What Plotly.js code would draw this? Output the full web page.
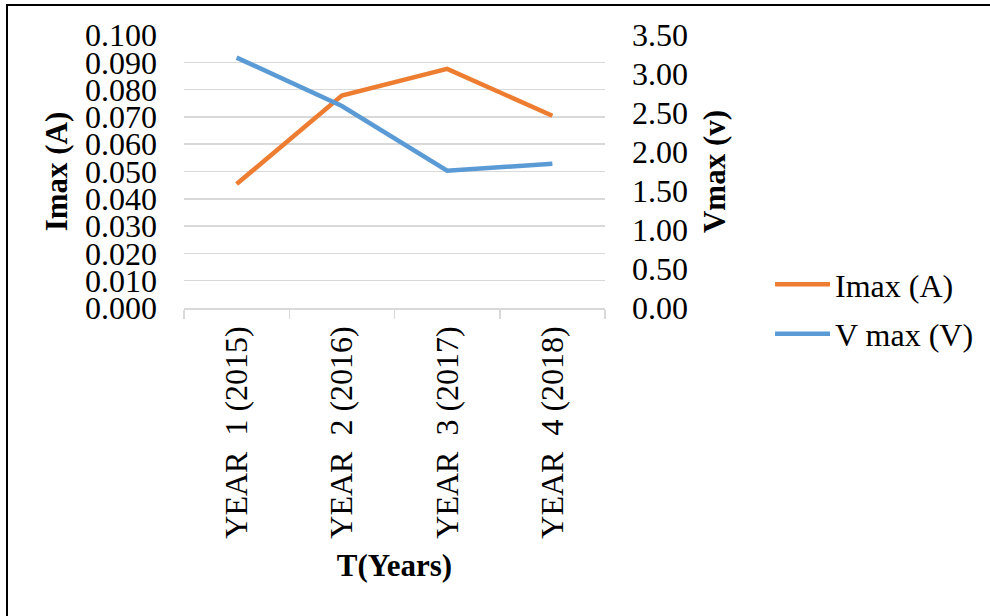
<!DOCTYPE html>
<html>
<head>
<meta charset="utf-8">
<script src="https://cdn.plot.ly/plotly-3.0.1.min.js"></script>
<style>
  html, body { margin: 0; padding: 0; background: #fff; }
  #wrap { position: relative; width: 990px; height: 616px; overflow: hidden; }
  #chart { position: absolute; left: 0; top: 0; width: 990px; height: 616px; }
  #frame { position: absolute; left: 6px; top: 4px; width: 1000px; height: 700px;
           border-left: 2.5px solid #000; border-top: 2.5px solid #000; pointer-events: none; }
</style>
</head>
<body>
<div id="wrap">
  <div id="chart"></div>
  <div id="frame"></div>
</div>
<script>
const categories = ["YEAR  1 (2015)", "YEAR  2 (2016)", "YEAR  3 (2017)", "YEAR  4 (2018)"];
const imaxValues = [0.0454, 0.0778, 0.0876, 0.0704];
const vmaxValues = [3.21, 2.59, 1.76, 1.85];
const imaxName = "Imax (A)";
const vmaxName = "V max (V)";

const FONT = "'Liberation Serif', 'Times New Roman', serif";
const FS = 32;
const TFS = 31;

const traces = [
  {
    x: categories, y: imaxValues, name: imaxName, type: "scatter", mode: "lines",
    line: { color: "#ED7D31", width: 4.5 }, yaxis: "y", legendgroup: "a"
  },
  {
    x: categories, y: vmaxValues, name: vmaxName, type: "scatter", mode: "lines",
    line: { color: "#5B9BD5", width: 4.5 }, yaxis: "y2", legendgroup: "b"
  }
];

const layout = {
  width: 990, height: 616,
  margin: { l: 184, r: 385, t: 35, b: 308, autoexpand: false },
  paper_bgcolor: "#fff", plot_bgcolor: "#fff",
  font: { family: FONT, size: FS, color: "#000" },
  showlegend: true,
  legend: {
    x: 1.392, xanchor: "left", y: -0.005, yanchor: "middle",
    font: { family: FONT, size: FS, color: "#000" },
    tracegroupgap: 5, bgcolor: "rgba(0,0,0,0)", itemwidth: 55
  },
  xaxis: {
    type: "category",
    range: [-0.5, 3.5], autorange: false,
    tickangle: -90,
    tickson: "boundaries",
    ticks: "outside", ticklen: 9, tickcolor: "#d9d9d9", tickwidth: 1.5,
    showline: true, linecolor: "#d9d9d9", linewidth: 1.5,
    showgrid: false, zeroline: false,
    ticklabelstandoff: 4,
    tickfont: { family: FONT, size: FS },
    title: { text: "<b>T(Years)</b>", font: { family: FONT, size: TFS }, standoff: 16 },
    automargin: false
  },
  yaxis: {
    range: [0, 0.1], dtick: 0.01, tick0: 0, tickformat: ".3f",
    showgrid: true, gridcolor: "#d9d9d9", gridwidth: 1.5,
    zeroline: false, showline: false, ticks: "",
    ticklabelstandoff: 26,
    tickfont: { family: FONT, size: FS },
    title: { text: "<b>Imax (A)</b>", font: { family: FONT, size: TFS }, standoff: 8 },
    automargin: false
  },
  yaxis2: {
    overlaying: "y", side: "right",
    range: [0, 3.5], dtick: 0.5, tick0: 0, tickformat: ".2f",
    showgrid: false, zeroline: false, showline: false, ticks: "",
    ticklabelstandoff: 26,
    tickfont: { family: FONT, size: FS },
    title: { text: "<b>Vmax (v)</b>", font: { family: FONT, size: TFS }, standoff: 16 },
    automargin: false
  }
};

Plotly.newPlot("chart", traces, layout, { displayModeBar: false, staticPlot: true });
</script>
</body>
</html>
